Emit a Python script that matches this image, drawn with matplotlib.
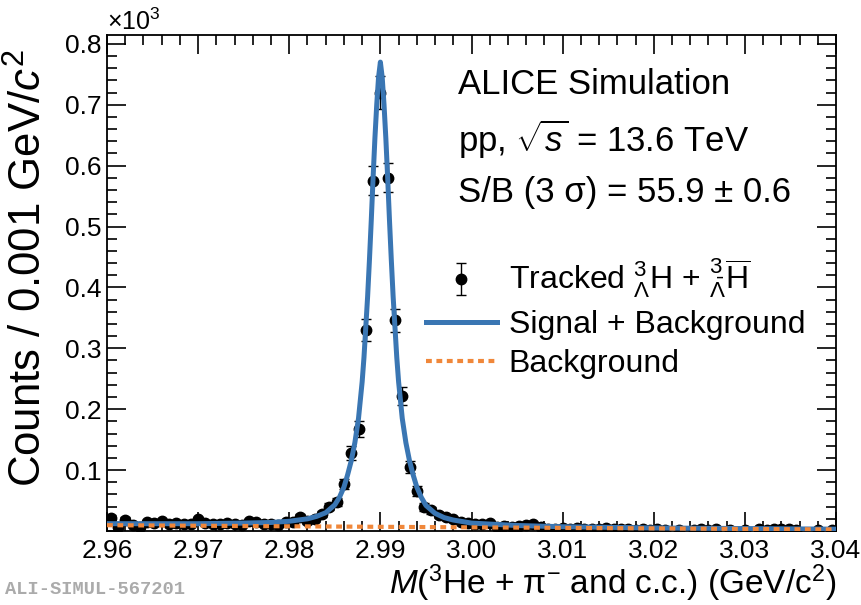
import numpy as np
import matplotlib
matplotlib.use("Agg")
import matplotlib.pyplot as plt
from matplotlib.lines import Line2D
from matplotlib.ticker import MultipleLocator

plt.rcParams['font.family'] = ['Liberation Sans', 'DejaVu Sans']
plt.rcParams['mathtext.fontset'] = 'custom'
plt.rcParams['mathtext.rm'] = 'Liberation Sans'
plt.rcParams['mathtext.it'] = 'Liberation Sans:italic'
plt.rcParams['mathtext.bf'] = 'Liberation Sans:bold'

# histogram: 100 bins of 0.0008 between 2.96 and 3.04, counts
bin_lo, bin_width = 2.96, 0.0008
counts = [21, 7, 18, 10, 7, 15, 13, 16, 11, 13,
          11, 12, 19, 13, 12, 11, 13, 12, 10, 16,
          14, 12, 11, 10, 14, 15, 23, 16, 20, 28,
          40, 48, 77, 128, 167, 330, 575, 720, 580, 346,
          222, 105, 66, 39, 34, 26, 23, 19, 15, 13,
          11, 12, 13, 7, 8, 6, 9, 10, 11, 6,
          4, 3, 5, 4, 5, 3, 4, 4, 5, 4,
          3, 4, 2, 3, 2, 3, 2, 0, 2, 0,
          2, 3, 2, 3, 0, 2, 0, 2, 0, 3,
          2, 3, 4, 3, 2, 0, 0, 2, 0, 1]

# fitted curves (in units of 10^3 counts)
fit_x = [2.9600, 2.9650, 2.9700, 2.9750, 2.9780, 2.9800, 2.9820, 2.9830, 2.9840,
         2.9850, 2.9855, 2.9860, 2.9864, 2.9868, 2.9872, 2.9876, 2.9880, 2.9882,
         2.9884, 2.9886, 2.9888, 2.9890, 2.9892, 2.9894, 2.9896, 2.9898, 2.9900,
         2.9902, 2.9904, 2.9906, 2.9908, 2.9910, 2.9912, 2.9914, 2.9916, 2.9918,
         2.9920, 2.9924, 2.9928, 2.9932, 2.9936, 2.9940, 2.9945, 2.9950, 2.9960,
         2.9970, 2.9980, 3.0000, 3.0050, 3.0100, 3.0200, 3.0300, 3.0400]
fit_y = [0.012, 0.012, 0.012, 0.013, 0.014, 0.016, 0.020, 0.024, 0.030,
         0.043, 0.055, 0.072, 0.092, 0.115, 0.145, 0.185, 0.245, 0.285,
         0.335, 0.385, 0.445, 0.510, 0.580, 0.645, 0.700, 0.745, 0.770,
         0.745, 0.700, 0.645, 0.580, 0.510, 0.445, 0.385, 0.335, 0.285,
         0.245, 0.185, 0.145, 0.115, 0.092, 0.072, 0.055, 0.042, 0.029,
         0.022, 0.018, 0.013, 0.009, 0.007, 0.005, 0.004, 0.003]
bkg_x = [2.96, 3.00, 3.04]
bkg_y = [0.0095, 0.006, 0.0025]

blue = '#3a76b3'
orange = '#f0873a'
bkg_style = (0, (1.4, 1.1))

counts = np.array(counts, dtype=float)
centers = bin_lo + bin_width * (np.arange(len(counts)) + 0.5)
mask = counts > 0
y = counts[mask] / 1000.0
yerr = np.sqrt(counts[mask]) / 1000.0

fig = plt.figure(figsize=(8.62, 6.05), dpi=100)
ax = fig.add_axes([107 / 862, 74 / 605, 729 / 862, 496 / 605])

eb = ax.errorbar(centers[mask], y, yerr=yerr, fmt='o', color='black', ms=7.5,
                 elinewidth=1.0, capsize=3.5, capthick=1.0, zorder=2)
ax.plot(fit_x, fit_y, color=blue, lw=3.6, zorder=3)
ax.plot(bkg_x, bkg_y, color=orange, lw=3.0, ls=bkg_style, zorder=4)

ax.set_xlim(2.96, 3.04)
ax.set_ylim(0, 0.8145)
ax.set_xticks([2.96, 2.97, 2.98, 2.99, 3.00, 3.01, 3.02, 3.03, 3.04])
ax.set_xticklabels(['2.96', '2.97', '2.98', '2.99', '3.00', '3.01', '3.02', '3.03', '3.04'])
ax.xaxis.set_minor_locator(MultipleLocator(0.002))
ax.set_yticks([0.1, 0.2, 0.3, 0.4, 0.5, 0.6, 0.7, 0.8])
ax.set_yticklabels(['0.1', '0.2', '0.3', '0.4', '0.5', '0.6', '0.7', '0.8'])
ax.yaxis.set_minor_locator(MultipleLocator(0.02))
ax.tick_params(which='both', direction='in', top=True, right=True, labelsize=19, width=1.2)
ax.tick_params(which='major', length=14)
ax.tick_params(which='minor', length=7)
ax.tick_params(axis='x', pad=6)
ax.tick_params(axis='y', pad=4)
for s in ax.spines.values():
    s.set_linewidth(1.3)

ax.set_ylabel(r'Counts / 0.001 GeV/$c^{2}$', fontsize=31.5)
ax.yaxis.set_label_coords(-0.077, 0.53)
ax.set_xlabel(r'$M$($^{3}$He + π$^{-}$ and c.c.) (GeV/c$^{2}$)', fontsize=24, loc='right')
ax.xaxis.set_label_coords(1.0, -0.064)

ax.text(0.0, 1.0, r'$\times10^{3}$', transform=ax.transAxes, fontsize=18, va='bottom')

ax.text(0.482, 0.9, 'ALICE Simulation', transform=ax.transAxes, fontsize=25, va='center')
ax.text(0.482, 0.79, r'pp, $\sqrt{s}$ = 13.6 TeV', transform=ax.transAxes, fontsize=25, va='center')
ax.text(0.482, 0.683, 'S/B (3 σ) = 55.9 ± 0.6', transform=ax.transAxes, fontsize=25, va='center')

handles = [
    eb,
    Line2D([], [], color=blue, lw=3.6),
    Line2D([], [], color=orange, lw=3.0, ls=bkg_style),
]
labels = [r'Tracked $^{3}_{\Lambda}\mathrm{H}$ + $^{3}_{\bar{\Lambda}}\overline{\mathrm{H}}$',
          'Signal + Background', 'Background']
leg = ax.legend(handles, labels, loc='upper left', bbox_to_anchor=(0.438, 0.552),
                frameon=False, fontsize=23, handlelength=2.2, handletextpad=0.38,
                labelspacing=0.3, borderaxespad=0, borderpad=0)

fig.text(0.006, 0.012, 'ALI-SIMUL-567201', fontsize=13.5, family='Liberation Mono',
         weight='bold', color='#ababab', va='bottom')

fig.savefig('out.png', dpi=100)
